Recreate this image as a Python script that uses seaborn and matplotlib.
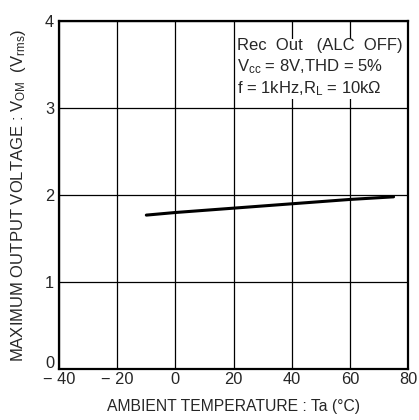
import matplotlib
matplotlib.use("Agg")
import matplotlib.pyplot as plt
import matplotlib.transforms as mtransforms
import seaborn as sns
import pandas as pd

# Vom vs ambient temperature
temp = [-10, 0, 20, 40, 60, 75]
vom = [1.77, 1.80, 1.85, 1.90, 1.95, 1.98]
xticks = [-40, -20, 0, 20, 40, 60, 80]
xticklabels = ["\u2212 40", "\u2212 20", "0", "20", "40", "60", "80"]
yticks = [0, 1, 2, 3, 4]

sns.set_style("white")
plt.rcParams['font.family'] = ['Liberation Sans', 'DejaVu Sans']
plt.rcParams['mathtext.fontset'] = 'custom'
plt.rcParams['mathtext.rm'] = 'Liberation Sans'
plt.rcParams['mathtext.it'] = 'Liberation Sans'

df = pd.DataFrame({"Ta": temp, "Vom": vom})

fig = plt.figure(figsize=(4.19, 4.2), dpi=100)
ax = fig.add_axes([0.141, 0.121, 0.833, 0.829])
sns.lineplot(data=df, x="Ta", y="Vom", ax=ax, color="black", linewidth=2.2)

ax.set_xlim(-40, 80)
ax.set_ylim(0, 4)
ax.set_xticks(xticks)
ax.set_xticklabels(xticklabels, fontsize=11.8)
ax.set_yticks(yticks)
ax.set_yticklabels([str(v) for v in yticks], fontsize=11.8)
ax.tick_params(axis="x", length=0, pad=2)
ax.tick_params(axis="y", length=0, pad=3.5)
# the "0" sits a little above the bottom frame
ylabs = ax.get_yticklabels()
ylabs[0].set_transform(ylabs[0].get_transform() +
                       mtransforms.ScaledTranslation(0, 5.5 / 72, fig.dpi_scale_trans))
ax.grid(True, color="black", linewidth=0.9)
ax.set_axisbelow(True)
for s in ax.spines.values():
    s.set_color("black")
    s.set_linewidth(1.6)

ax.set_xlabel("AMBIENT TEMPERATURE : Ta (\u00b0C)", fontsize=11.3, labelpad=9)
ax.set_ylabel("MAXIMUM OUTPUT VOLTAGE : V$_{\\mathrm{OM}}$  (V$_{\\mathrm{rms}}$)",
              fontsize=12, labelpad=12)

ax.text(0.51, 0.95,
        "Rec  Out   (ALC  OFF)\nV$_{\\mathrm{cc}}$ = 8V,THD = 5%\nf = 1kHz,R$_{\\mathrm{L}}$ = 10k\u03a9",
        transform=ax.transAxes, fontsize=12, va="top", ha="left", linespacing=1.25,
        bbox=dict(facecolor="white", edgecolor="none", pad=1))

fig.savefig("out.png", dpi=100)
